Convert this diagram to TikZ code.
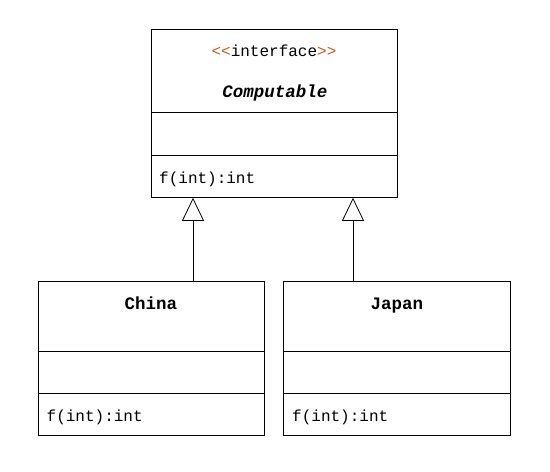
\documentclass[tikz,border=0pt]{standalone}
\usepackage{fontspec}
\setmonofont{Liberation Mono}
\usetikzlibrary{arrows.meta}
\definecolor{chev}{RGB}{200,90,20}
\tikzset{
  umlbox/.style={draw, line width=0.8pt, anchor=north west, inner sep=0pt},
  divider/.style={line width=0.8pt},
  txt/.style={font=\ttfamily\fontsize{16}{18}\selectfont, inner sep=0pt},
  ttl/.style={font=\ttfamily\bfseries\fontsize{17.5}{20}\selectfont, inner sep=0pt, anchor=base},
  inh/.style={line width=0.8pt, -{Triangle[open, width=22pt, length=23pt, line width=0.8pt]}}
}
\begin{document}
\begin{tikzpicture}[x=1pt, y=-1pt]
\useasboundingbox (0,0) rectangle (550,472);
% boxes
\node[umlbox, minimum width=246pt, minimum height=168pt] (comp) at (151,29) {};
\node[umlbox, minimum width=226pt, minimum height=154pt] (china) at (38,281) {};
\node[umlbox, minimum width=227pt, minimum height=154pt] (japan) at (283,281) {};
% dividers
\coordinate (d1) at (0,112); \coordinate (d2) at (0,155);
\coordinate (d3) at (0,351); \coordinate (d4) at (0,393);
\draw[divider] (comp.west |- d1) -- (comp.east |- d1);
\draw[divider] (comp.west |- d2) -- (comp.east |- d2);
\draw[divider] (china.west |- d3) -- (china.east |- d3);
\draw[divider] (china.west |- d4) -- (china.east |- d4);
\draw[divider] (japan.west |- d3) -- (japan.east |- d3);
\draw[divider] (japan.west |- d4) -- (japan.east |- d4);
% texts
\node[txt, anchor=base] (stereo) at (274,56.5) {\textcolor{chev}{<<}interface\textcolor{chev}{>>}};
\node[ttl, font=\ttfamily\bfseries\itshape\fontsize{17.5}{20}\selectfont] (cname) at (275,97) {Computable};
\node[txt, anchor=base west] (cop) at (159,183.5) {f(int):int};
\node[ttl] (chname) at (151,309) {China};
\node[txt, anchor=base west] (chop) at (46.5,421) {f(int):int};
\node[ttl] (jpname) at (397,309) {Japan};
\node[txt, anchor=base west] (jpop) at (292,421) {f(int):int};
% inheritance
\coordinate (l1) at (193,0); \coordinate (l2) at (353,0);
\draw[inh] (china.north -| l1) -- (comp.south -| l1);
\draw[inh] (japan.north -| l2) -- (comp.south -| l2);
\end{tikzpicture}
\end{document}
